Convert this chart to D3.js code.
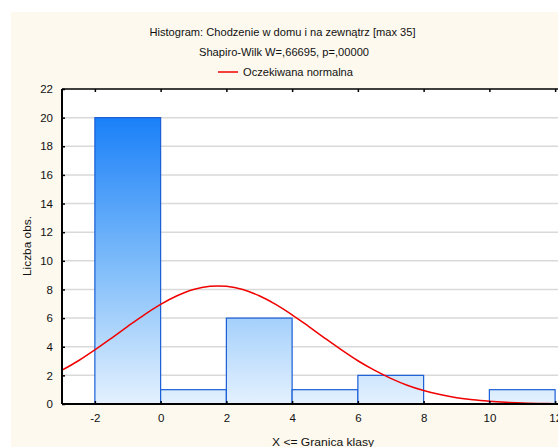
<!DOCTYPE html>
<html><head><meta charset="utf-8">
<script src="https://cdn.jsdelivr.net/npm/d3@7"></script>
<style>
html,body{margin:0;padding:0;background:#fff;}
svg text{font-family:"Liberation Sans",Arial,sans-serif;fill:#111;}
</style></head>
<body>
<svg id="chart" width="558" height="447"></svg>
<script>
// ---- data ----
const binStarts = [-2, 0, 2, 4, 6, 8, 10];
const binEnds   = [ 0, 2, 4, 6, 8, 10, 12];
const counts    = [20, 1, 6, 1, 2, 0, 1];
const xTicks = [-2, 0, 2, 4, 6, 8, 10, 12];
const yTicks = [0, 2, 4, 6, 8, 10, 12, 14, 16, 18, 20, 22];
// expected normal curve
const curveX = [-3,-2.5,-2,-1.5,-1,-0.5,0,0.5,1,1.5,2,2.5,3,3.5,4,4.5,5,5.5,6,6.5,7,7.5,8,8.5,9,9.5,10,10.5,11,11.5,12,12.5,13];
const curveY = [2.36,3.02,3.78,4.59,5.42,6.23,6.96,7.56,8.00,8.22,8.22,8.00,7.56,6.96,6.23,5.42,4.59,3.78,3.02,2.36,1.79,1.31,0.94,0.66,0.44,0.29,0.19,0.12,0.07,0.04,0.02,0.01,0.01];
const titleLines = ["Histogram: Chodzenie w domu i na zewnątrz [max 35]", "Shapiro-Wilk W=,66695, p=,00000"];
const legendLabel = "Oczekiwana normalna";
const yLabel = "Liczba obs.";
const xLabel = "X <= Granica klasy";

// ---- drawing ----
const svg = d3.select("#chart");
const pL = 62, pT = 89, pB = 404, pR = 588;
const x = d3.scaleLinear().domain([-3, 13]).range([pL, pR]);
const y = d3.scaleLinear().domain([0, 22]).range([pB, pT]);

svg.append("rect").attr("x", 11).attr("y", 12).attr("width", 600).attr("height", 500).attr("fill", "#fdf9ee");
svg.append("rect").attr("x", pL).attr("y", pT).attr("width", pR - pL).attr("height", pB - pT).attr("fill", "#fff");

const defs = svg.append("defs");
const grad = defs.append("linearGradient").attr("id", "bg").attr("gradientUnits", "userSpaceOnUse")
  .attr("x1", 0).attr("x2", 0).attr("y1", y(20)).attr("y2", y(0));
grad.append("stop").attr("offset", "0%").attr("stop-color", "#1a80f8");
grad.append("stop").attr("offset", "55%").attr("stop-color", "#85c0fa");
grad.append("stop").attr("offset", "100%").attr("stop-color", "#e4f1fe");
defs.append("clipPath").attr("id", "clip").append("rect")
  .attr("x", pL).attr("y", pT).attr("width", pR - pL).attr("height", pB - pT);

// grid
svg.append("g").selectAll("line").data(yTicks.filter(d => d > 0 && d < 22)).join("line")
  .attr("x1", pL).attr("x2", pR).attr("y1", d => y(d)).attr("y2", d => y(d))
  .attr("stroke", "#d9d9d9").attr("stroke-width", 1.5);

// bars
svg.append("g").selectAll("rect").data(counts.map((c, i) => ({c, a: binStarts[i], b: binEnds[i]})).filter(d => d.c > 0)).join("rect")
  .attr("x", d => x(d.a)).attr("width", d => x(d.b) - x(d.a))
  .attr("y", d => y(d.c)).attr("height", d => y(0) - y(d.c))
  .attr("fill", "url(#bg)").attr("stroke", "#1a5ed6").attr("stroke-width", 1.2);

// curve
const line = d3.line().x((d, i) => x(curveX[i])).y(d => y(d)).curve(d3.curveCatmullRom);
svg.append("path").datum(curveY).attr("d", line).attr("clip-path", "url(#clip)")
  .attr("fill", "none").attr("stroke", "#f00000").attr("stroke-width", 1.5);

// axes
const fmt = d => String(d);
const gL = svg.append("g").attr("transform", `translate(${pL},0)`)
  .call(d3.axisLeft(y).tickValues(yTicks).tickSize(-3).tickPadding(9).tickFormat(fmt));
const gT = svg.append("g").attr("transform", `translate(0,${pT})`)
  .call(d3.axisTop(x).tickValues(xTicks).tickSize(-3).tickFormat(""));
const gB = svg.append("g").attr("transform", `translate(0,${pB})`)
  .call(d3.axisBottom(x).tickValues(xTicks).tickSize(-3).tickPadding(10).tickFormat(fmt));
[gL, gT, gB].forEach(g => {
  g.select(".domain").attr("stroke", "#000").attr("stroke-width", 2);
  g.selectAll(".tick line").attr("stroke", "#000").attr("stroke-width", 1.5);
  g.selectAll("text").attr("font-size", 11.5).attr("fill", "#111").attr("font-family", "Liberation Sans, Arial, sans-serif");
});
gB.select(".domain").attr("d", `M${pL},0H${pR}`);
gT.select(".domain").attr("d", `M${pL},0H${pR}`).attr("stroke-width", 1.5);
gL.select(".domain").attr("d", `M0,${pT}V${pB}`);

// titles
svg.append("text").attr("x", 282.5).attr("y", 36).attr("text-anchor", "middle").attr("font-size", 11)
  .attr("textLength", 266).attr("lengthAdjust", "spacingAndGlyphs").text(titleLines[0]);
svg.append("text").attr("x", 284).attr("y", 56).attr("text-anchor", "middle").attr("font-size", 11)
  .attr("textLength", 170).attr("lengthAdjust", "spacingAndGlyphs").text(titleLines[1]);
svg.append("line").attr("x1", 218).attr("x2", 238).attr("y1", 72).attr("y2", 72).attr("stroke", "#f00000").attr("stroke-width", 1.5);
svg.append("text").attr("x", 243).attr("y", 76).attr("font-size", 11)
  .attr("textLength", 110).attr("lengthAdjust", "spacingAndGlyphs").text(legendLabel);

svg.append("text").attr("transform", "translate(31,246) rotate(-90)").attr("text-anchor", "middle").attr("font-size", 11)
  .attr("textLength", 60).attr("lengthAdjust", "spacingAndGlyphs").text(yLabel);
svg.append("text").attr("x", 323).attr("y", 446).attr("text-anchor", "middle").attr("font-size", 11)
  .attr("textLength", 102).attr("lengthAdjust", "spacingAndGlyphs").text(xLabel);
</script>
</body></html>
